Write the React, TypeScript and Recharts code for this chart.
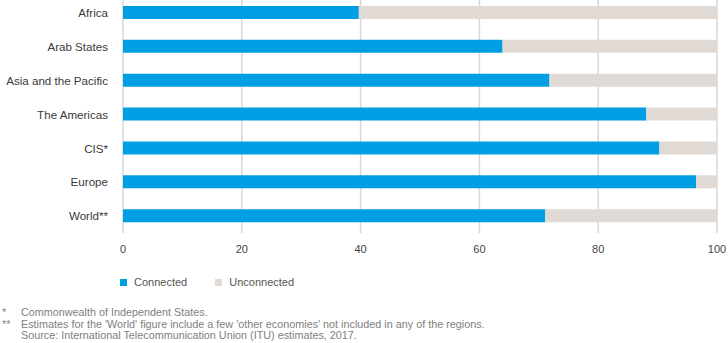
import React from 'react'
import { BarChart, Bar, XAxis, YAxis, CartesianGrid } from 'recharts'

const regions = ['Africa', 'Arab States', 'Asia and the Pacific', 'The Americas', 'CIS*', 'Europe', 'World**']
const connected = [39.7, 63.9, 71.8, 88.1, 90.3, 96.5, 71.1]
const unconnected = connected.map((v) => Math.round((100 - v) * 10) / 10)
const xTicks = [0, 20, 40, 60, 80, 100]

const seriesNames = ['Connected', 'Unconnected']
const BLUE = '#009FE3'
const BEIGE = '#E1DAD4'

const footnotes = [
    ['*', 'Commonwealth of Independent States.'],
    ['**', "Estimates for the 'World' figure include a few 'other economies' not included in any of the regions."],
    ['', 'Source: International Telecommunication Union (ITU) estimates, 2017.']
]

const data = regions.map((region, i) => ({
    region,
    connected: connected[i],
    unconnected: unconnected[i]
}))

const FONT = '"Liberation Sans", Arial, sans-serif'

// plain one-line tick so long names don't wrap
const RegionTick = ({ x, y, payload }: any) => (
    <text x={x} y={y} dy="0.36em" textAnchor="end" fill="#3a3a3a" fontSize={11.6} fontFamily={FONT}>
        {payload.value}
    </text>
)

export default function App() {
    return (
        <div style={{ position: 'absolute', top: 0, left: 0, width: 728, height: 343, fontFamily: FONT, background: '#fff' }}>
            <BarChart
                width={728}
                height={260}
                data={data}
                layout="vertical"
                margin={{ top: -4, right: 11, left: 0, bottom: 0 }}
                barSize={13}
            >
                <CartesianGrid horizontal={false} stroke="#D8D8D8" strokeWidth={1.5} />
                <XAxis
                    type="number"
                    domain={[0, 100]}
                    ticks={xTicks}
                    axisLine={false}
                    tickLine={false}
                    tickSize={0}
                    tickMargin={12}
                    height={27}
                    interval={0}
                    tick={{ fill: '#444', fontSize: 11, fontFamily: FONT }}
                />
                <YAxis
                    type="category"
                    dataKey="region"
                    width={123}
                    axisLine={false}
                    tickLine={false}
                    tickSize={0}
                    tickMargin={15}
                    interval={0}
                    tick={<RegionTick />}
                />
                <Bar dataKey="connected" stackId="a" fill={BLUE} isAnimationActive={false} />
                <Bar dataKey="unconnected" stackId="a" fill={BEIGE} isAnimationActive={false} />
            </BarChart>

            {/* legend */}
            <div style={{ position: 'absolute', top: 276, left: 120, display: 'flex', alignItems: 'center', fontSize: 11, color: '#555' }}>
                {seriesNames.map((name, i) => (
                    <div key={name} style={{ display: 'flex', alignItems: 'center', marginRight: 28 }}>
                        <span style={{ width: 7, height: 7, background: i === 0 ? BLUE : BEIGE, marginRight: 7, display: 'inline-block' }} />
                        <span>{name}</span>
                    </div>
                ))}
            </div>

            {/* footnotes */}
            <div style={{ position: 'absolute', top: 307, left: 0, width: 728, fontSize: 10.8, color: '#808080', lineHeight: '11.5px' }}>
                {footnotes.map(([mark, text], i) => (
                    <div key={i} style={{ display: 'flex', whiteSpace: 'nowrap' }}>
                        <span style={{ width: 21, flexShrink: 0, paddingLeft: 2, boxSizing: 'border-box' }}>{mark}</span>
                        <span>{text}</span>
                    </div>
                ))}
            </div>
        </div>
    )
}
